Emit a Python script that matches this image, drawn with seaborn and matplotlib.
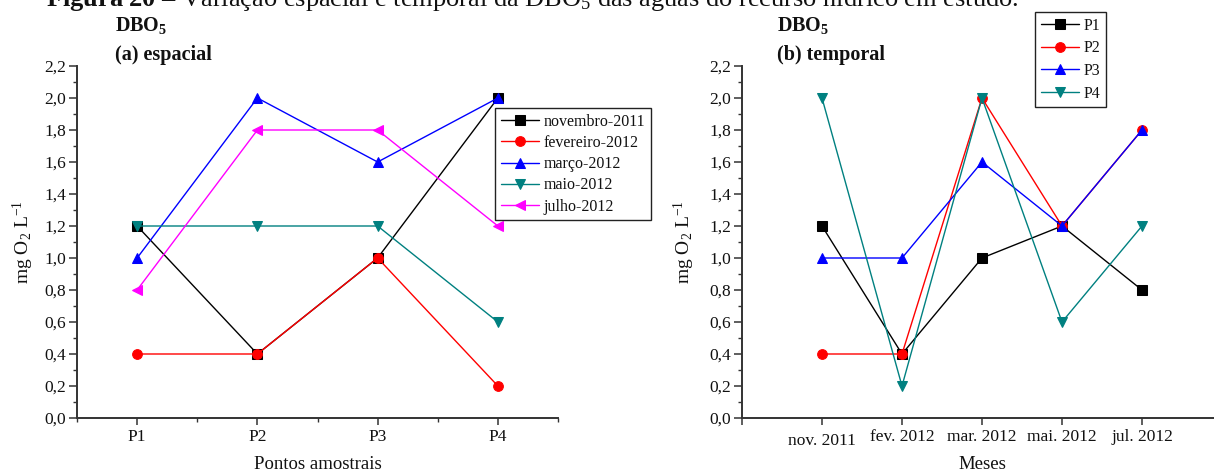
import matplotlib
matplotlib.use("Agg")
import matplotlib.pyplot as plt
from matplotlib.ticker import FuncFormatter, MultipleLocator, FixedLocator
import pandas as pd
import seaborn as sns

# ---- data -----------------------------------------------------------------
pontos = ["P1", "P2", "P3", "P4"]
meses = ["novembro-2011", "fevereiro-2012", "março-2012", "maio-2012", "julho-2012"]
meses_curto = ["nov. 2011", "fev. 2012", "mar. 2012", "mai. 2012", "jul. 2012"]

# DBO5 (mg O2 L-1) per sampling point, one list per campaign
novembro_2011 = [1.2, 0.4, 1.0, 2.0]
fevereiro_2012 = [0.4, 0.4, 1.0, 0.2]
marco_2012 = [1.0, 2.0, 1.6, 2.0]
maio_2012 = [1.2, 1.2, 1.2, 0.6]
julho_2012 = [0.8, 1.8, 1.8, 1.2]

y_ticks = [0.0, 0.2, 0.4, 0.6, 0.8, 1.0, 1.2, 1.4, 1.6, 1.8, 2.0, 2.2]

cores_meses = ["#000000", "#ff0000", "#0000ff", "#008080", "#ff00ff"]
marcadores_meses = ["s", "o", "^", "v", "<"]
cores_pontos = ["#000000", "#ff0000", "#0000ff", "#008080"]
marcadores_pontos = ["s", "o", "^", "v"]

campanhas = [novembro_2011, fevereiro_2012, marco_2012, maio_2012, julho_2012]
linhas = []
for i_m, (mes, valores) in enumerate(zip(meses, campanhas)):
    for i_p, (ponto, v) in enumerate(zip(pontos, valores)):
        linhas.append({"mes": mes, "mes_pos": i_m + 1, "ponto": ponto,
                       "ponto_pos": i_p + 1, "dbo": v})
df = pd.DataFrame(linhas)

# ---- style ------------------------------------------------------------------
sns.set_theme(style="ticks")
plt.rcParams["font.family"] = ["Liberation Serif", "DejaVu Serif"]
plt.rcParams["mathtext.fontset"] = "custom"
plt.rcParams["mathtext.rm"] = "Liberation Serif"
plt.rcParams["mathtext.it"] = "Liberation Serif:italic"
plt.rcParams["mathtext.bf"] = "Liberation Serif:bold"

W, H = 1214, 472
fig = plt.figure(figsize=(W / 100, H / 100), dpi=100)
fig.patch.set_facecolor("white")

ax_top, ax_bot = 66, 418
ax_h = ax_bot - ax_top
ax1 = fig.add_axes([77 / W, (H - ax_bot) / H, 481 / W, ax_h / H])
ax2 = fig.add_axes([742 / W, (H - ax_bot) / H, 480 / W, ax_h / H])

virgula = FuncFormatter(lambda v, _: f"{v:.1f}".replace(".", ","))
TXT = "#111111"


def estilo_eixo(ax):
    ax.set_facecolor("white")
    for s in ("top", "right"):
        ax.spines[s].set_visible(False)
    for s in ("left", "bottom"):
        ax.spines[s].set_linewidth(1.4)
        ax.spines[s].set_color("#333333")
    ax.set_ylim(0, 2.2)
    ax.yaxis.set_major_locator(FixedLocator(y_ticks))
    ax.yaxis.set_minor_locator(MultipleLocator(0.1))
    ax.yaxis.set_major_formatter(virgula)
    ax.tick_params(axis="both", which="major", direction="out", width=1.1,
                   color="#333333", labelsize=12.5, labelcolor=TXT)
    ax.tick_params(axis="y", which="major", length=6, pad=2)
    ax.tick_params(axis="x", which="major", length=5, pad=3)
    ax.tick_params(axis="both", which="minor", direction="out", length=3,
                   width=1.0, color="#333333")
    ax.grid(False)
    ax.set_ylabel(r"mg O$_2$ L$^{-1}$", fontsize=14, color=TXT)
    for ln in ax.get_lines():
        ln.set_markeredgecolor(ln.get_color())
        ln.set_markerfacecolor(ln.get_color())
        ln.set_linewidth(1.0)
        ln.set_markersize(7)


def legenda(ax, rotulos, x_px, y_px, espaco):
    leg = ax.legend(ax.get_lines(), rotulos, loc="upper left",
                    bbox_to_anchor=(x_px / W, 1 - y_px / H),
                    bbox_transform=fig.transFigure, borderaxespad=0,
                    fontsize=11.5, labelspacing=espaco, handlelength=2.4,
                    handletextpad=0.3, borderpad=0.35, fancybox=False,
                    framealpha=1, edgecolor="#222222")
    leg.get_frame().set_linewidth(1.0)
    for t in leg.get_texts():
        t.set_color(TXT)
    return leg


# ---- (a) espacial: one line per campaign across the sampling points --------
sns.lineplot(data=df, x="ponto_pos", y="dbo", hue="mes", style="mes",
             hue_order=meses, style_order=meses,
             palette=dict(zip(meses, cores_meses)),
             markers=dict(zip(meses, marcadores_meses)), dashes=False,
             estimator=None, sort=False, legend=False, ax=ax1)
estilo_eixo(ax1)
ax1.set_xlim(0.5, 4.5)
ax1.xaxis.set_major_locator(FixedLocator(range(1, len(pontos) + 1)))
ax1.xaxis.set_minor_locator(FixedLocator([0.5, 1.5, 2.5, 3.5, 4.5]))
ax1.set_xticklabels(pontos)
ax1.set_xlabel("Pontos amostrais", fontsize=13.5, color=TXT)
ax1.xaxis.set_label_coords(0.5, -(456 - ax_bot) / ax_h)
ax1.yaxis.set_label_coords(-(77 - 36) / 481, 0.5)
legenda(ax1, meses, 495, 108, 0.33)

# ---- (b) temporal: one line per sampling point across the campaigns ---------
sns.lineplot(data=df, x="mes_pos", y="dbo", hue="ponto", style="ponto",
             hue_order=pontos, style_order=pontos,
             palette=dict(zip(pontos, cores_pontos)),
             markers=dict(zip(pontos, marcadores_pontos)), dashes=False,
             estimator=None, sort=False, legend=False, ax=ax2)
estilo_eixo(ax2)
ax2.set_xlim(0, 6)
ax2.xaxis.set_major_locator(FixedLocator(range(0, len(meses_curto) + 1)))
ax2.xaxis.set_minor_locator(FixedLocator([]))
ax2.set_xticklabels([""] + meses_curto)
ax2.xaxis.get_major_ticks()[1].set_pad(6)
ax2.set_xlabel("Meses", fontsize=13.5, color=TXT)
ax2.xaxis.set_label_coords(0.5, -(456 - ax_bot) / ax_h)
ax2.yaxis.set_label_coords(-(742 - 697) / 480, 0.5)
legenda(ax2, pontos, 1035, 12, 0.42)

# ---- panel headings and caption --------------------------------------------
for x_px, sub in ((115, "(a) espacial"), (777, "(b) temporal")):
    fig.text(x_px / W, 1 - 31 / H, r"$\mathbf{DBO_5}$", fontsize=14.5,
             va="baseline", color=TXT)
    fig.text(x_px / W, 1 - 60 / H, sub, fontsize=14.5, fontweight="bold",
             va="baseline", color=TXT)

fig.text(46 / W, 1 - 6 / H,
         r"$\mathbf{Figura\ 20}$ – Variação espacial e temporal da DBO$_5$ "
         "das águas do recurso hídrico em estudo.",
         fontsize=19, va="baseline", color=TXT)

fig.savefig("out.png", dpi=100, facecolor="white")
